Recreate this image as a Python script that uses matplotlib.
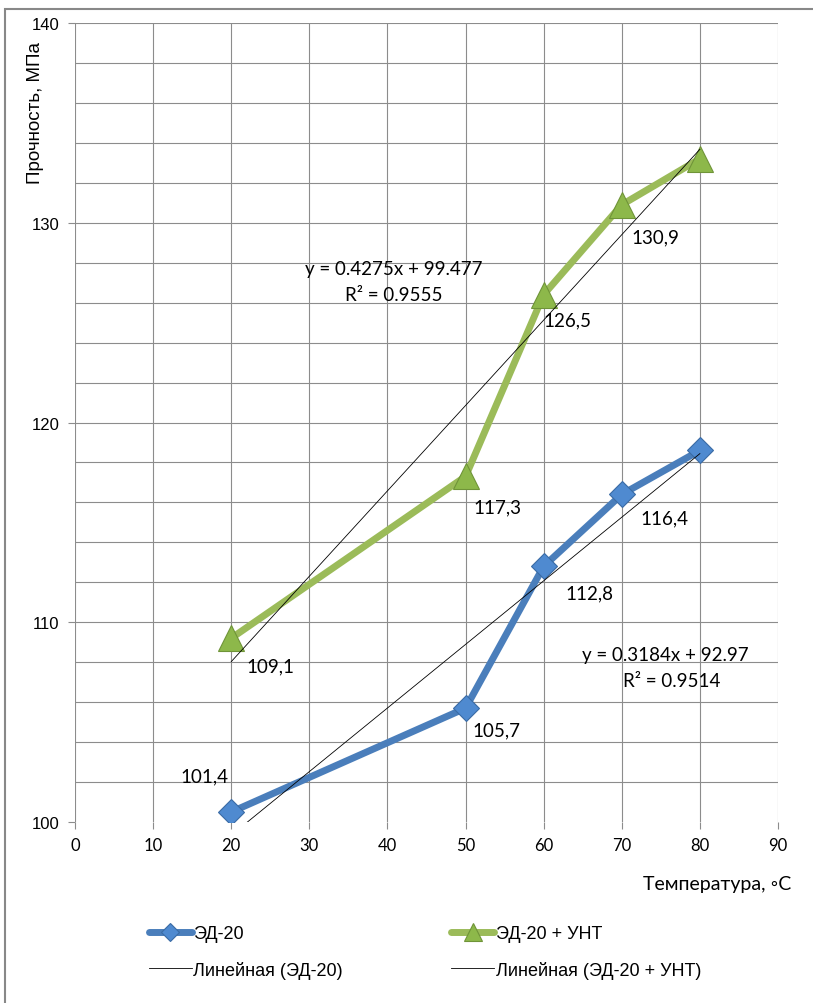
import matplotlib
matplotlib.use("Agg")
import matplotlib.pyplot as plt
import numpy as np
from matplotlib.patches import Rectangle

# ---- data ----
temps = [20, 50, 60, 70, 80]
ed20 = [100.5, 105.7, 112.8, 116.4, 118.6]
ed20_unt = [109.2, 117.3, 126.4, 130.9, 133.2]
ed20_labels = ["101,4", "105,7", "112,8", "116,4", None]
unt_labels = ["109,1", "117,3", "126,5", "130,9", None]
trend_ed20 = (0.3184, 92.97, 0.9514)
trend_unt = (0.4275, 99.477, 0.9555)
series_names = ["ЭД-20", "ЭД-20 + УНТ"]
trend_names = ["Линейная (ЭД-20)", "Линейная (ЭД-20 + УНТ)"]
x_ticks = list(range(0, 91, 10))
y_ticks = [100, 110, 120, 130, 140]

# ---- style ----
BLUE = "#4A7EBB"
GREEN = "#9BBB59"
GRID = "#8C8C8C"
ed_offsets = [(-19, 26), (22, -16), (33, -19), (31, -17), None]
unt_offsets = [(28, -20), (23, -22), (17, -18), (24, -23), None]

fig = plt.figure(figsize=(8.13, 10.04), dpi=100)
fig.add_artist(Rectangle((5 / 813, -0.1), 1.2, 1 - 10 / 1004 + 0.1,
                         transform=fig.transFigure, fill=False,
                         edgecolor="#888888", linewidth=1.5))

ax = fig.add_axes([75 / 813, 1 - 823 / 1004, (778 - 75) / 813, (823 - 24) / 1004])
ax.set_xlim(0, 90)
ax.set_ylim(100, 140)

# grid
for yv in np.arange(102, 141, 2):
    ax.axhline(yv, color=GRID, lw=0.8, zorder=0)
for xv in x_ticks:
    ax.axvline(xv, color=GRID, lw=0.8, zorder=0)
for s in ax.spines.values():
    s.set_visible(False)

ax.set_xticks(x_ticks)
ax.set_yticks(y_ticks)
ax.tick_params(axis="both", color=GRID, length=5, width=0.8)
ax.tick_params(axis="y", pad=6)
ax.tick_params(axis="x", pad=6)
for lab in ax.get_yticklabels():
    lab.set_fontfamily("Liberation Sans")
    lab.set_fontsize(12)
for lab in ax.get_xticklabels():
    lab.set_fontfamily("Lato")
    lab.set_fontsize(12)

# trend lines
xt = np.array([temps[0], temps[-1]])
tl1, = ax.plot(xt, trend_ed20[0] * xt + trend_ed20[1], color="black", lw=0.6, zorder=4)
tl2, = ax.plot(xt, trend_unt[0] * xt + trend_unt[1], color="black", lw=0.6, zorder=4)

# series
l1, = ax.plot(temps, ed20, color=BLUE, lw=5, marker="D", markersize=13.5,
              markerfacecolor="#4F8AD0", markeredgecolor="#3A6BA5", markeredgewidth=0.8,
              solid_capstyle="round", zorder=3)
l2, = ax.plot(temps, ed20_unt, color=GREEN, lw=5, marker="^", markersize=19,
              markerfacecolor="#8DB84A", markeredgecolor="#6F9438", markeredgewidth=0.8,
              solid_capstyle="round", zorder=3)

# data labels
for x, y, t, off in zip(temps, ed20, ed20_labels, ed_offsets):
    if t:
        ax.annotate(t, (x, y), xytext=off, textcoords="offset points",
                    ha="center", va="center", fontsize=13.5, family="Lato")
for x, y, t, off in zip(temps, ed20_unt, unt_labels, unt_offsets):
    if t:
        ax.annotate(t, (x, y), xytext=off, textcoords="offset points",
                    ha="center", va="center", fontsize=13.5, family="Lato")

# equations
EQ = 13.5
fig.text(394 / 813, 1 - 270 / 1004,
         f"y = {trend_unt[0]}x + {trend_unt[1]}", ha="center", va="center",
         fontsize=EQ, family="Lato")
fig.text(394 / 813, 1 - 296 / 1004,
         f"R² = {trend_unt[2]}", ha="center", va="center",
         fontsize=EQ, family="Lato")
fig.text(665 / 813, 1 - 656 / 1004,
         f"y = {trend_ed20[0]}x + {trend_ed20[1]}", ha="center", va="center",
         fontsize=EQ, family="Lato")
fig.text(672 / 813, 1 - 682 / 1004,
         f"R² = {trend_ed20[2]}", ha="center", va="center",
         fontsize=EQ, family="Lato")

# axis titles
fig.text(35 / 813, 1 - 113 / 1004, "Прочность, МПа", rotation=90,
         ha="center", va="center", fontsize=13.5, family="Liberation Sans")
fig.text(791 / 813, 1 - 885 / 1004, "Температура, ◦C", ha="right", va="center",
         fontsize=14, family=["Lato", "DejaVu Sans"])

# legend
leg = fig.legend([l1, tl1, l2, tl2],
                 [series_names[0], trend_names[0], series_names[1], trend_names[1]],
                 ncol=2, loc="center", bbox_to_anchor=(425 / 813, 1 - 953 / 1004),
                 frameon=False, handlelength=2.35, handletextpad=0.1,
                 columnspacing=6.0, labelspacing=1.0, markerscale=0.65,
                 prop={"family": ["Liberation Sans Narrow", "Liberation Sans"], "size": 13})

fig.savefig("out.png", dpi=100)
